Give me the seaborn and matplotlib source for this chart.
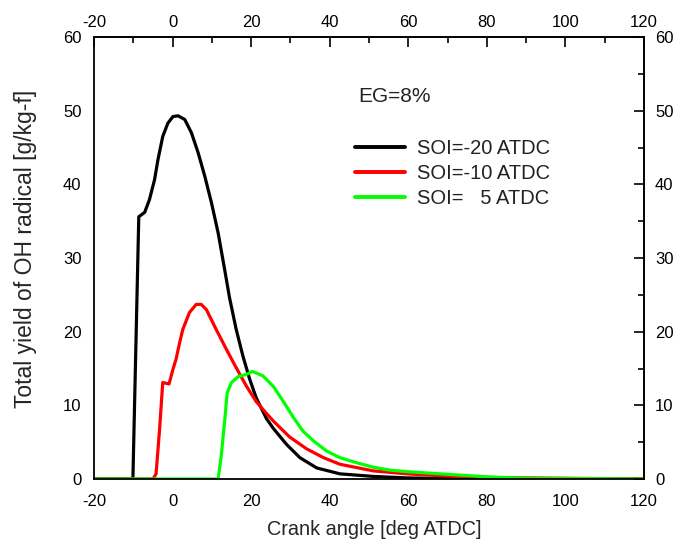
import numpy as np
import pandas as pd
import matplotlib
matplotlib.use("Agg")
import matplotlib.pyplot as plt
import seaborn as sns
from matplotlib.ticker import MultipleLocator

# ---- data ----
x_soi_m20 = [-20, -10.1, -8.6, -7.1, -5.9, -4.6, -3.7, -2.5, -1.2, 0.1, 1.4, 3.1, 4.8, 6.5, 8.2,
             9.9, 11.6, 13.3, 14.5, 16.2, 17.9, 19.6, 21.3, 23.9, 25.6, 27.3, 29.0, 32.4, 36.7,
             42.6, 51.1, 59.6, 70, 120]
y_soi_m20 = [0, 0, 35.6, 36.2, 37.9, 40.6, 43.4, 46.5, 48.3, 49.2, 49.3, 48.8, 47.0, 44.3, 41.1,
             37.5, 33.4, 28.3, 24.6, 20.3, 16.7, 13.6, 11.0, 8.2, 6.9, 5.8, 4.7, 2.9, 1.5,
             0.7, 0.35, 0.15, 0.05, 0]

x_soi_m10 = [-20, -5.0, -4.2, -3.3, -2.5, -0.9, 0.1, 0.9, 1.8, 2.6, 4.3, 6.0, 7.3, 8.6, 11.1,
             13.7, 16.2, 18.8, 21.3, 23.9, 25.6, 27.3, 29.8, 34.1, 38.4, 42.6, 51.1, 59.6, 68.1,
             80, 120]
y_soi_m10 = [0, 0, 0.7, 6.8, 13.1, 12.9, 14.9, 16.3, 18.5, 20.3, 22.6, 23.7, 23.7, 23.0, 20.3,
             17.6, 15.1, 12.6, 10.5, 8.9, 7.9, 7.0, 5.7, 4.1, 2.9, 2.0, 1.1, 0.7, 0.45,
             0.2, 0]

x_soi_p5 = [-20, 11.6, 12.4, 13.3, 13.9, 15.0, 16.7, 18.8, 20.3, 23.0, 25.6, 28.1, 30.7, 33.2,
            35.8, 39.2, 42.6, 46.9, 51.1, 55.4, 59.6, 68.1, 80, 90, 120]
y_soi_p5 = [0, 0, 3.2, 8.1, 11.7, 13.1, 13.9, 14.2, 14.6, 14.0, 12.6, 10.6, 8.4, 6.5,
            5.2, 3.8, 2.9, 2.2, 1.6, 1.2, 1.0, 0.7, 0.3, 0.1, 0]

labels = ["SOI=-20 ATDC", "SOI=-10 ATDC", "SOI=   5 ATDC"]
colors = ["#000000", "#ff0000", "#00ff00"]
x_ticks = [-20, 0, 20, 40, 60, 80, 100, 120]
y_ticks = [0, 10, 20, 30, 40, 50, 60]

frames = []
for lab, xs, ys in zip(labels, [x_soi_m20, x_soi_m10, x_soi_p5], [y_soi_m20, y_soi_m10, y_soi_p5]):
    frames.append(pd.DataFrame({"x": xs, "y": ys, "series": lab}))
df = pd.concat(frames, ignore_index=True)

sns.set_style("white")
plt.rcParams["font.family"] = ["Liberation Sans", "DejaVu Sans"]
plt.rcParams["axes.unicode_minus"] = False

fig = plt.figure(figsize=(6.88, 5.47), dpi=100)
# axes box: x 94..644 px, y 37..479 px
ax = fig.add_axes([94 / 688, 1 - 479 / 547, 550 / 688, 442 / 547])

sns.lineplot(data=df, x="x", y="y", hue="series", hue_order=labels,
             palette=dict(zip(labels, colors)), linewidth=2.3, sort=False,
             estimator=None, ax=ax)
for line in ax.get_lines():
    line.set_solid_joinstyle("round")
    line.set_solid_capstyle("round")

ax.set_xlim(-20, 120)
ax.set_ylim(0, 60)
ax.set_xticks(x_ticks)
ax.set_yticks(y_ticks)
ax.xaxis.set_minor_locator(MultipleLocator(10))
ax.yaxis.set_minor_locator(MultipleLocator(5))
ax.tick_params(which="both", direction="in", top=False, right=False,
               labelsize=12, width=1.2, colors="black")
ax.tick_params(which="major", length=7)
ax.tick_params(which="minor", length=4)
ax.tick_params(axis="x", which="major", pad=11)
ax.tick_params(axis="y", which="major", pad=9)
for s in ax.spines.values():
    s.set_linewidth(1.3)
    s.set_color("black")

# mirrored top / right axes with their own label spacing
secx = ax.secondary_xaxis("top")
secx.set_xticks(x_ticks)
secx.xaxis.set_minor_locator(MultipleLocator(10))
secx.tick_params(which="both", direction="in", labelsize=12, width=1.2, colors="black")
secx.tick_params(which="major", length=7, pad=5)
secx.tick_params(which="minor", length=4)
secx.spines["top"].set_linewidth(1.3)

secy = ax.secondary_yaxis("right")
secy.set_yticks(y_ticks)
secy.yaxis.set_minor_locator(MultipleLocator(5))
secy.tick_params(which="both", direction="in", labelsize=12, width=1.2, colors="black")
secy.tick_params(which="major", length=7, pad=8)
secy.tick_params(which="minor", length=4)
secy.spines["right"].set_linewidth(1.3)

ax.set_xlabel("Crank angle [deg ATDC]", fontsize=14.3)
ax.xaxis.set_label_coords(0.51, -0.092)
ax.set_ylabel("Total yield of OH radical [g/kg-f]", fontsize=16.5)
ax.yaxis.set_label_coords(-0.103, 0.52)

ax.text(0.48, 0.8665, "EG=8%", transform=ax.transAxes, fontsize=15,
        ha="left", va="center", color="#222222")

leg = ax.legend(loc="upper left", bbox_to_anchor=(0.4745, 0.77), frameon=False,
                fontsize=14.5, handlelength=2.5, handletextpad=0.6, labelspacing=0.3,
                borderpad=0, borderaxespad=0)
for line in leg.get_lines():
    line.set_linewidth(2.8)
for t in leg.get_texts():
    t.set_color("#222222")

fig.savefig("out.png", dpi=100)
